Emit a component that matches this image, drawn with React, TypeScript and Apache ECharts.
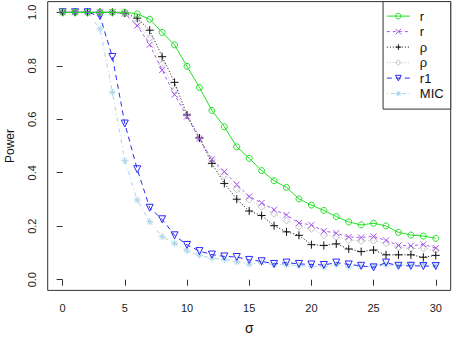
import React, { useEffect, useRef } from "react";
import * as echarts from "echarts";

const sigma = Array.from({ length: 31 }, (_, i) => i);
const xTicks = [0, 5, 10, 15, 20, 25, 30];
const yTicks = [0, 0.2, 0.4, 0.6, 0.8, 1.0];

const seriesKeys = ["r_a", "r_b", "rho_a", "rho_b", "r1", "MIC"];
const legendLabels = ["r", "r", "ρ", "ρ", "r1", "MIC"];
const colors = ["#22e022", "#a855f0", "#111111", "#c4c4c4", "#2a2af5", "#a8d4e8"];

const rGreen = [1, 1, 1, 1, 1, 1, 0.994, 0.974, 0.925, 0.878, 0.798, 0.719, 0.633, 0.572, 0.497, 0.454, 0.408, 0.370, 0.345, 0.302, 0.279, 0.259, 0.236, 0.216, 0.205, 0.211, 0.201, 0.177, 0.167, 0.163, 0.155];
const rPurple = [1, 1, 1, 1, 1, 0.995, 0.950, 0.879, 0.784, 0.692, 0.610, 0.527, 0.450, 0.404, 0.356, 0.311, 0.287, 0.262, 0.242, 0.212, 0.205, 0.182, 0.174, 0.160, 0.158, 0.162, 0.147, 0.128, 0.127, 0.132, 0.118];
const rhoBlack = [1, 1, 1, 1, 1, 0.997, 0.978, 0.933, 0.834, 0.738, 0.616, 0.530, 0.435, 0.360, 0.301, 0.257, 0.240, 0.202, 0.179, 0.166, 0.131, 0.128, 0.134, 0.115, 0.105, 0.111, 0.093, 0.093, 0.093, 0.084, 0.091];
const rhoGray = [1, 1, 1, 1, 1, 0.995, 0.962, 0.903, 0.806, 0.709, 0.615, 0.530, 0.448, 0.390, 0.338, 0.300, 0.273, 0.246, 0.221, 0.198, 0.190, 0.167, 0.161, 0.148, 0.145, 0.146, 0.136, 0.121, 0.117, 0.117, 0.110];
const r1Blue = [1, 1, 1, 0.986, 0.833, 0.584, 0.413, 0.269, 0.226, 0.166, 0.130, 0.107, 0.094, 0.087, 0.085, 0.074, 0.069, 0.059, 0.064, 0.059, 0.057, 0.055, 0.064, 0.057, 0.052, 0.046, 0.064, 0.052, 0.052, 0.051, 0.051];
const micLight = [1, 1, 1, 0.938, 0.701, 0.445, 0.298, 0.217, 0.161, 0.136, 0.108, 0.092, 0.080, 0.076, 0.067, 0.058, 0.064, 0.056, 0.056, 0.052, 0.050, 0.048, 0.056, 0.048, 0.050, 0.050, 0.056, 0.054, 0.056, 0.059, 0.054];

const seriesValues = [rGreen, rPurple, rhoBlack, rhoGray, r1Blue, micLight];

const symbols = [
  "circle",
  "path://M0,0L10,10M10,0L0,10",
  "path://M5,0L5,10M0,5L10,5",
  "diamond",
  "path://M0,0L10,0L5,8.66Z",
  "path://M5,0L5,10M0,5L10,5M1.5,1.5L8.5,8.5M8.5,1.5L1.5,8.5",
];
const symbolSizes = [6, 6, 8, 7, 7, 7];
const lineTypes: any[] = ["solid", [3, 3], [1, 2], [1, 2], [5, 4], [1, 3, 4, 3]];

export default function App() {
  const ref = useRef<HTMLDivElement>(null);
  useEffect(() => {
    if (!ref.current) return;
    const chart = echarts.init(ref.current, null, { renderer: "svg" });
    const font = "Liberation Sans";
    const series = seriesKeys.map((key, i) => ({
      name: key,
      type: "line",
      data: sigma.map((s, j) => [s, seriesValues[i][j]]),
      symbol: symbols[i],
      symbolSize: symbolSizes[i],
      showAllSymbol: true,
      z: 10 - i,
      itemStyle: { color: "rgba(0,0,0,0)", borderColor: colors[i], borderWidth: 1 },
      lineStyle: { color: colors[i], width: 1, type: lineTypes[i] },
      emphasis: { disabled: true },
    }));
    chart.setOption({
      animation: false,
      backgroundColor: "#ffffff",
      textStyle: { fontFamily: font },
      grid: {
        left: 47.7,
        right: 1.3,
        top: 1.6,
        bottom: 59.6,
        show: true,
        borderColor: "#333333",
        borderWidth: 1,
        backgroundColor: "transparent",
        containLabel: false,
        outerBoundsMode: "none",
      },
      xAxis: {
        type: "value",
        min: -1.2,
        max: 31.2,
        name: "σ",
        nameLocation: "middle",
        nameGap: 31,
        nameTextStyle: { fontSize: 14, color: "#111", fontFamily: font },
        axisLine: { show: false },
        splitLine: { show: false },
        axisTick: { show: true, length: 6, customValues: xTicks, lineStyle: { color: "#333" } },
        axisLabel: {
          customValues: xTicks,
          margin: 12,
          fontSize: 11,
          color: "#222",
          fontFamily: font,
        },
      },
      yAxis: {
        type: "value",
        min: -0.04,
        max: 1.04,
        name: "Power",
        nameLocation: "middle",
        nameGap: 32,
        nameRotate: 90,
        nameTextStyle: { fontSize: 12, color: "#111", fontFamily: font },
        axisLine: { show: false },
        splitLine: { show: false },
        axisTick: { show: true, length: 6, customValues: yTicks, lineStyle: { color: "#333" } },
        axisLabel: {
          customValues: yTicks,
          rotate: 90,
          margin: 10,
          fontSize: 11,
          color: "#222",
          fontFamily: font,
          formatter: (v: number) => v.toFixed(1),
        },
      },
      legend: {
        orient: "vertical",
        right: 1.3,
        top: 1.6,
        align: "left",
        data: seriesKeys,
        formatter: (name: string) => legendLabels[seriesKeys.indexOf(name)],
        itemWidth: 23,
        itemHeight: 7,
        itemGap: 2.5,
        padding: [8, 7, 9, 3.3],
        backgroundColor: "#ffffff",
        borderColor: "#333333",
        borderWidth: 1,
        borderRadius: 0,
        selectedMode: false,
        itemStyle: { borderWidth: 1 },
        lineStyle: { width: 1 },
        textStyle: { fontSize: 13, color: "#111", fontFamily: font, padding: [0, 0, 0, 5] },
      },
      series,
    });
    return () => chart.dispose();
  }, []);
  return (
    <div
      ref={ref}
      style={{ position: "fixed", left: 0, top: 0, width: 452, height: 350 }}
    />
  );
}
